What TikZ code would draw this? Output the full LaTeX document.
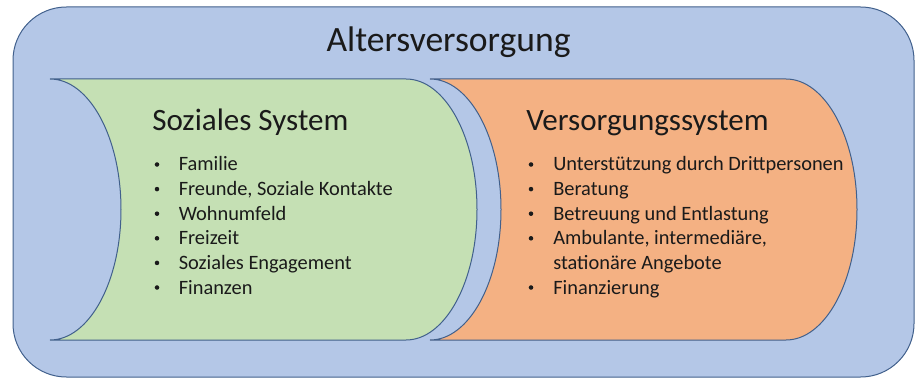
\documentclass[tikz,border=0pt]{standalone}
\usepackage{fontspec}
\setmainfont{Carlito}
\definecolor{outerfill}{HTML}{B4C7E7}
\definecolor{greenfill}{HTML}{C5E0B4}
\definecolor{orangefill}{HTML}{F4B183}
\definecolor{edge}{HTML}{41608C}
\definecolor{ink}{HTML}{1A1A1A}
\begin{document}
\begin{tikzpicture}[x=0.75pt,y=-0.75pt,
  shapeline/.style={draw=edge,line width=0.75pt},
  titletext/.style={font=\fontsize{26.7}{32}\selectfont,text=ink,inner sep=0pt,anchor=base},
  headtext/.style={font=\fontsize{23.3}{28}\selectfont,text=ink,inner sep=0pt,anchor=base west},
  itemtext/.style={font=\fontsize{15.3}{18.4}\selectfont,text=ink,inner sep=0pt,anchor=base west},
  bul/.style={circle,fill=ink,inner sep=0pt,minimum size=3.4pt}]
\useasboundingbox (0,0) rectangle (915,378);
% outer rounded box
\draw[shapeline,fill=outerfill,rounded corners=40pt] (13,7) rectangle (914,377);
% green shape
\draw[shapeline,fill=greenfill] (50,79) -- (406,79)
  .. controls (445.2,79) and (477,137.4) .. (477,209.5)
  .. controls (477,281.6) and (445.2,340) .. (406,340) -- (50,340)
  .. controls (89.2,340) and (121,281.6) .. (121,209.5)
  .. controls (121,137.4) and (89.2,79) .. (50,79) -- cycle;
% orange shape
\draw[shapeline,fill=orangefill] (430,79) -- (786,79)
  .. controls (825.2,79) and (857,137.4) .. (857,209.5)
  .. controls (857,281.6) and (825.2,340) .. (786,340) -- (430,340)
  .. controls (469.2,340) and (501,281.6) .. (501,209.5)
  .. controls (501,137.4) and (469.2,79) .. (430,79) -- cycle;
% title
\node[titletext] (title) at (448.5,52) {Altersversorgung};
% headings
\node[headtext] (hs) at (152,130.5) {Soziales System};
\node[headtext] (hv) at (526,130.5) {Versorgungssystem};
% left list
\foreach \t [count=\i] in {Familie,{Freunde, Soziale Kontakte},Wohnumfeld,Freizeit,Soziales Engagement,Finanzen}{
  \node[bul] (sb\i) at (157,{164.5+24.6*(\i-1)}) {};
  \node[itemtext] (st\i) at (178.5,{171+24.6*(\i-1)}) {\t};
}
% right list
\node[bul] (vb1) at (531,164.5) {};
\node[itemtext] (vt1) at (553,171) {Unterstützung durch Drittpersonen};
\node[bul] (vb2) at (531,189.1) {};
\node[itemtext] (vt2) at (553,195.6) {Beratung};
\node[bul] (vb3) at (531,213.7) {};
\node[itemtext] (vt3) at (553,220.2) {Betreuung und Entlastung};
\node[bul] (vb4) at (531,238.3) {};
\node[itemtext] (vt4) at (553,244.8) {Ambulante, intermediäre,};
\node[itemtext] (vt4b) at (553,269.4) {stationäre Angebote};
\node[bul] (vb5) at (531,287.5) {};
\node[itemtext] (vt5) at (553,294) {Finanzierung};
\end{tikzpicture}
\end{document}
